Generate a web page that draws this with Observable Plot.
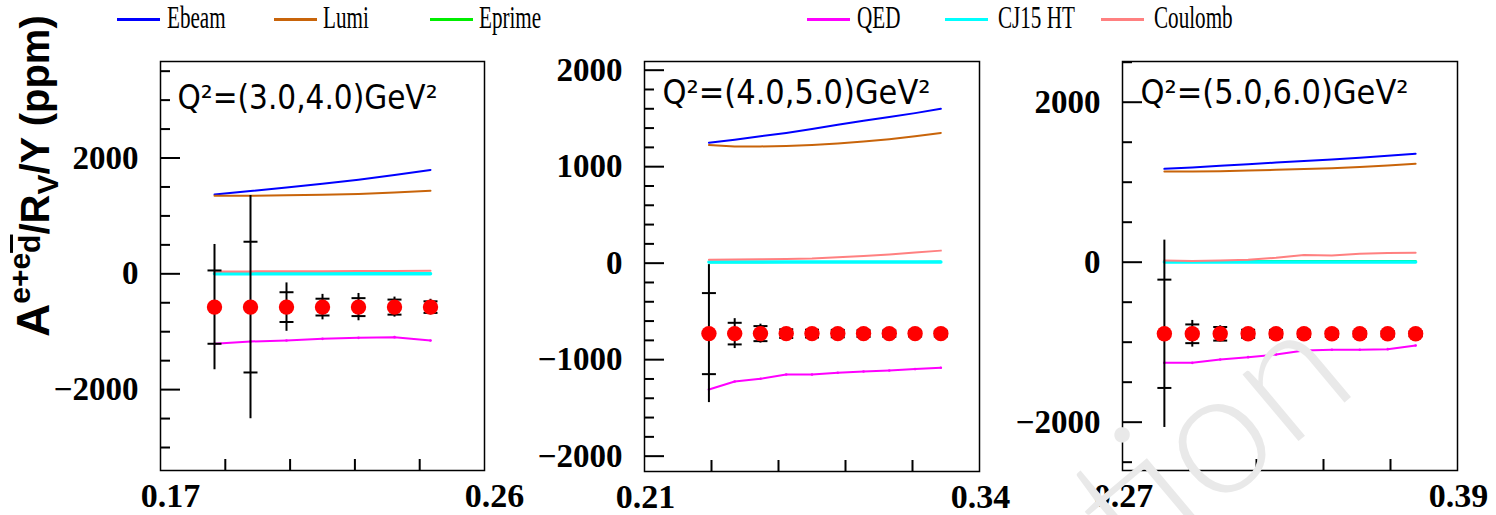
<!DOCTYPE html>
<html><head><meta charset="utf-8">
<script src="https://cdn.jsdelivr.net/npm/d3@7"></script>
<script src="https://cdn.jsdelivr.net/npm/@observablehq/plot@0.6"></script>
<style>
html,body{margin:0;padding:0;background:#fff;}
#root{position:relative;width:1496px;height:515px;overflow:hidden;background:#fff;}
.panel{position:absolute;top:0;}
.leg-line{position:absolute;height:3px;top:18px;}
.leg-text{position:absolute;top:1px;font-family:"Liberation Serif",serif;font-size:32px;line-height:1;transform:scaleX(0.66);transform-origin:0 0;white-space:nowrap;color:#000;}
.overlay{position:absolute;left:0;top:0;pointer-events:none;}
</style></head><body><div id="root"></div>
<script>
// ---- Series (legend) ----
const seriesNames = ["Ebeam", "Lumi", "Eprime", "QED", "CJ15 HT", "Coulomb"];
const seriesColors = ["#0000ff", "#c8640a", "#00ee00", "#ff00ff", "#00ffff", "#ff8080"];
const legendLineX = [117, 274, 430, 807, 945, 1101];
const legendTextX = [167, 323, 479, 857, 998, 1154];

// ---- Panel 1: Q2 = (3,4) ----
const q2Label1 = "Q²=(3.0,4.0)GeV²";
const x1 = [0.185, 0.195, 0.205, 0.215, 0.225, 0.235, 0.245];
const asym1 = [-575, -575, -575, -575, -575, -575, -575];
const errTot1 = [1082, 1928, 418, 220, 236, 173, 135];
const errStat1 = [633, 1129, 257, 145, 155, 130, 100];
const ebeam1 = [1370, 1430, 1490, 1555, 1625, 1705, 1795];
const lumi1 = [1350, 1348, 1355, 1365, 1380, 1405, 1435];
const eprime1 = [8, 8, 9, 9, 10, 10, 11];
const qed1 = [-1209, -1169, -1151, -1123, -1106, -1094, -1151];
const cj1 = [3, 3, 3, 3, 3, 3, 3];
const coul1 = [40, 42, 44, 45, 47, 50, 52];
const xDomain1 = [0.17, 0.26];
const yDomain1 = [-3397, 3667];
const xTicks1 = [0.188, 0.206, 0.224, 0.242];
const xLabels1 = [0.17, 0.26];
const yMajor1 = [-2000, 0, 2000];
const yMinor1 = [-3000, -2500, -1500, -1000, -500, 500, 1000, 1500, 2500, 3000, 3500];

// ---- Panel 2: Q2 = (4,5) ----
const q2Label2 = "Q²=(4.0,5.0)GeV²";
const x2 = [0.235, 0.245, 0.255, 0.265, 0.275, 0.285, 0.295, 0.305, 0.315, 0.325];
const asym2 = [-730, -730, -730, -730, -730, -730, -730, -730, -730, -730];
const errTot2 = [715, 155, 98, 60, 55, 50, 45, 45, 40, 40];
const errStat2 = [420, 112, 78, 45, 40, 38, 35, 33, 30, 30];
const ebeam2 = [1248, 1280, 1315, 1350, 1390, 1435, 1475, 1515, 1555, 1600];
const lumi2 = [1225, 1210, 1210, 1215, 1225, 1240, 1260, 1285, 1315, 1350];
const eprime2 = [10, 10, 10, 11, 11, 12, 12, 13, 13, 14];
const qed2 = [-1309, -1226, -1198, -1153, -1153, -1136, -1122, -1112, -1098, -1084];
const cj2 = [12, 12, 12, 12, 12, 12, 12, 12, 12, 12];
const coul2 = [35, 38, 40, 42, 48, 62, 75, 90, 110, 130];
const xDomain2 = [0.21, 0.34];
const yDomain2 = [-2159, 2090];
const xTicks2 = [0.236, 0.262, 0.288, 0.314];
const xLabels2 = [0.21, 0.34];
const yMajor2 = [-2000, -1000, 0, 1000, 2000];
const yMinor2 = [-1800, -1600, -1400, -1200, -800, -600, -400, -200, 200, 400, 600, 800, 1200, 1400, 1600, 1800];

// ---- Panel 3: Q2 = (5,6) ----
const q2Label3 = "Q²=(5.0,6.0)GeV²";
const x3 = [0.285, 0.295, 0.305, 0.315, 0.325, 0.335, 0.345, 0.355, 0.365, 0.375];
const asym3 = [-895, -895, -895, -895, -895, -895, -895, -895, -895, -895];
const errTot3 = [1171, 167, 100, 70, 60, 55, 50, 50, 45, 45];
const errStat3 = [677, 117, 85, 50, 45, 40, 38, 35, 33, 30];
const ebeam3 = [1167, 1185, 1205, 1225, 1245, 1265, 1285, 1305, 1330, 1355];
const lumi3 = [1134, 1135, 1138, 1145, 1155, 1165, 1175, 1190, 1210, 1230];
const eprime3 = [12, 12, 13, 13, 14, 14, 15, 15, 16, 16];
const qed3 = [-1258, -1258, -1216, -1187, -1154, -1104, -1095, -1095, -1087, -1041];
const cj3 = [2, 2, 2, 2, 2, 2, 2, 2, 2, 2];
const coul3 = [21, 15, 20, 30, 55, 90, 85, 105, 115, 118];
const xDomain3 = [0.27, 0.39];
const yDomain3 = [-2604, 2509];
const xTicks3 = [0.294, 0.318, 0.342, 0.366];
const xLabels3 = [0.27, 0.39];
const yMajor3 = [-2000, 0, 2000];
const yMinor3 = [-2500, -1500, -1000, -500, 500, 1000, 1500, 2500];

const root = document.getElementById("root");
const fmtY = d => d < 0 ? "\u2212" + Math.abs(d) : String(d);
const tickFont = "'Liberation Serif', 'Times New Roman', serif";
const capSymbol = {draw(ctx, size) { const w = Math.sqrt(size / Math.PI); ctx.moveTo(-w, 0); ctx.lineTo(w, 0); }};

function makePanel(cfg) {
  const rows = cfg.x.map((x, i) => ({x, y: cfg.asym[i], et: cfg.errTot[i], es: cfg.errStat[i]}));
  const lineMarks = cfg.series.map((vals, s) =>
    Plot.line(cfg.x.map((x, i) => ({x, y: vals[i]})), {x: "x", y: "y", stroke: seriesColors[s], strokeWidth: s === 4 ? 3.5 : 2})
  );
  const qedPts = cfg.x.map((x, i) => ({x, y: cfg.series[3][i]}));
  const svg = Plot.plot({
    width: cfg.width, height: 515,
    marginLeft: cfg.ml, marginRight: cfg.mr, marginTop: 61, marginBottom: cfg.mb,
    style: "overflow: visible; background: transparent;",
    x: {domain: cfg.xDomain, axis: null},
    y: {domain: cfg.yDomain, axis: null, label: null},
    marks: [
      ...lineMarks,
      Plot.dot(qedPts, {x: "x", y: "y", r: 1.3, fill: seriesColors[3]}),
      Plot.ruleX(rows, {x: "x", y1: d => d.y - d.et, y2: d => d.y + d.et, stroke: "black", strokeWidth: 2}),
      Plot.dot(rows, {x: "x", y: d => d.y - d.es, symbol: capSymbol, r: 7, stroke: "black", strokeWidth: 2, fill: "none"}),
      Plot.dot(rows, {x: "x", y: d => d.y + d.es, symbol: capSymbol, r: 7, stroke: "black", strokeWidth: 2, fill: "none"}),
      Plot.dot(rows, {x: "x", y: "y", r: 7.7, fill: "#ff0000"}),
      Plot.frame({stroke: "black", strokeWidth: 1.5}),
      Plot.axisY({ticks: cfg.yMinor, tickSize: -10, fill: "none", stroke: "black", strokeWidth: 2, label: null}),
      Plot.axisY({ticks: cfg.yMajor, tickSize: -20, fill: "none", stroke: "black", strokeWidth: 2, label: null}),
      Plot.axisY({ticks: cfg.yMajor, tickSize: 0, tickPadding: 22, tickFormat: fmtY, fill: "black",
        fontFamily: tickFont, fontSize: 33, fontWeight: "bold", label: null}),
      Plot.axisX({ticks: cfg.xTicks, tickSize: -11, fill: "none", stroke: "black", strokeWidth: 2, label: null}),
      Plot.axisX({ticks: cfg.xLabels, tickSize: 0, tickPadding: 12, dx: cfg.xdx, tickFormat: d3.format(".2f"), fill: "black",
        fontFamily: tickFont, fontSize: 34, fontWeight: "bold", label: null}),
      Plot.text([cfg.q2], {frameAnchor: "top-left", dx: cfg.qdx, dy: cfg.qdy, lineAnchor: "bottom",
        fontSize: 33, fontFamily: "'DejaVu Sans', sans-serif", fill: "black"})
    ]
  });
  const t = svg.querySelector('g[aria-label="text"] text');
  if (t) { t.setAttribute("textLength", cfg.qLen); t.setAttribute("lengthAdjust", "spacingAndGlyphs"); }
  const wrap = document.createElement("div");
  wrap.className = "panel";
  wrap.style.left = cfg.left + "px";
  wrap.style.width = cfg.width + "px";
  wrap.appendChild(svg);
  root.appendChild(wrap);
}

makePanel({left: 0, width: 530, ml: 160, mr: 46, mb: 45, x: x1, asym: asym1, errTot: errTot1, errStat: errStat1,
  series: [ebeam1, lumi1, eprime1, qed1, cj1, coul1], xDomain: xDomain1, yDomain: yDomain1, xdx: 10,
  xTicks: xTicks1, xLabels: xLabels1, yMajor: yMajor1, yMinor: yMinor1, q2: q2Label1, qdx: 17, qdy: 47, qLen: 260});
makePanel({left: 530, width: 480, ml: 114, mr: 31, mb: 44, x: x2, asym: asym2, errTot: errTot2, errStat: errStat2,
  series: [ebeam2, lumi2, eprime2, qed2, cj2, coul2], xDomain: xDomain2, yDomain: yDomain2, xdx: 1,
  xTicks: xTicks2, xLabels: xLabels2, yMajor: yMajor2, yMinor: yMinor2, q2: q2Label2, qdx: 18, qdy: 42, qLen: 268});
makePanel({left: 1010, width: 486, ml: 112, mr: 39, mb: 45, x: x3, asym: asym3, errTot: errTot3, errStat: errStat3,
  series: [ebeam3, lumi3, eprime3, qed3, cj3, coul3], xDomain: xDomain3, yDomain: yDomain3, xdx: 1,
  xTicks: xTicks3, xLabels: xLabels3, yMajor: yMajor3, yMinor: yMinor3, q2: q2Label3, qdx: 18, qdy: 42, qLen: 268});

// ---- Legend ----
seriesNames.forEach((name, i) => {
  const ln = document.createElement("div");
  ln.className = "leg-line";
  ln.style.left = legendLineX[i] + "px";
  ln.style.width = "43px";
  ln.style.background = seriesColors[i];
  root.appendChild(ln);
  const tx = document.createElement("div");
  tx.className = "leg-text";
  tx.style.left = legendTextX[i] + "px";
  tx.textContent = name;
  root.appendChild(tx);
});

// ---- Y-axis title and watermark ----
const NS = "http://www.w3.org/2000/svg";
const ov = document.createElementNS(NS, "svg");
ov.setAttribute("class", "overlay");
ov.setAttribute("width", 1496);
ov.setAttribute("height", 515);
ov.innerHTML = `
<text x="1230" y="490" transform="rotate(-40 1230 462)" text-anchor="middle" font-family="Lato, 'Open Sans', sans-serif" font-weight="300" font-size="175" fill="#e9e9e9">tion</text>
<text transform="translate(49,337) rotate(-90)" font-family="'Liberation Sans', Arial, sans-serif" font-weight="bold" font-size="40" fill="#000"><tspan font-size="46">A</tspan><tspan font-size="30" dy="-19">e+e</tspan><tspan font-size="30" dy="10" text-decoration="overline">d</tspan><tspan dy="9">/R</tspan><tspan font-size="30" dy="9">V</tspan><tspan dy="-9">/Y (ppm)</tspan></text>`;
root.appendChild(ov);
</script></body></html>
